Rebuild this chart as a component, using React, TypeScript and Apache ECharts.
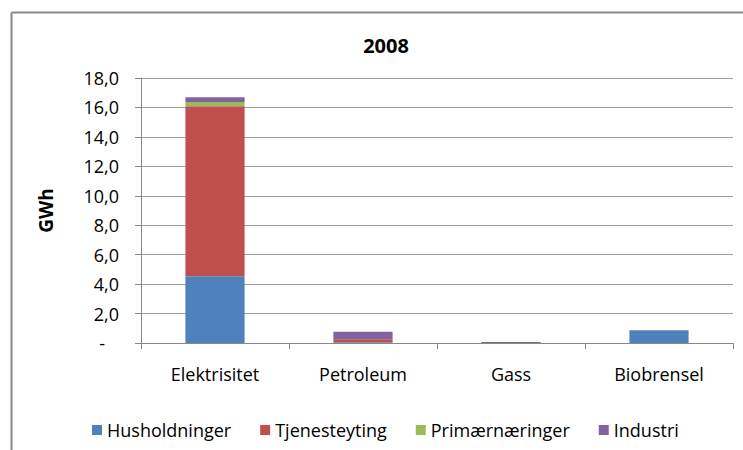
import React, { useEffect, useRef } from "react";
import * as echarts from "echarts";

const categories = ["Elektrisitet", "Petroleum", "Gass", "Biobrensel"];
const husholdninger = [4.53, 0.05, 0, 0.86];
const tjenesteyting = [11.55, 0.2, 0, 0];
const primaernaeringer = [0.29, 0, 0, 0];
const industri = [0.32, 0.52, 0.07, 0];
const seriesNames = ["Husholdninger", "Tjenesteyting", "Primærnæringer", "Industri"];
const colors = ["#4F81BD", "#C0504D", "#9BBB59", "#8064A2"];

const FONT = "'Open Sans', Lato, sans-serif";

export default function App() {
  const ref = useRef<HTMLDivElement>(null);
  useEffect(() => {
    if (!ref.current) return;
    const chart = echarts.init(ref.current, null, { renderer: "svg" });
    const data = [husholdninger, tjenesteyting, primaernaeringer, industri];
    chart.setOption({
      animation: false,
      backgroundColor: "#ffffff",
      textStyle: { fontFamily: FONT },
      title: {
        text: "2008",
        left: 381,
        textAlign: "center",
        top: 30,
        textStyle: { fontSize: 20, fontWeight: "bold", color: "#000", fontFamily: FONT },
      },
      graphic: [
        { type: "line", shape: { x1: 11.5, y1: 12.5, x2: 743, y2: 12.5 }, style: { stroke: "#888", lineWidth: 2 } },
        { type: "line", shape: { x1: 11.5, y1: 12.5, x2: 11.5, y2: 450 }, style: { stroke: "#888", lineWidth: 2 } },
      ],
      grid: { left: 141, right: 10, top: 78, bottom: 107 },
      legend: {
        left: 92,
        top: 421,
        padding: 0,
        icon: "rect",
        itemWidth: 10,
        itemHeight: 10,
        itemGap: 29,
        textStyle: { fontSize: 18, color: "#000", fontFamily: FONT },
        data: seriesNames,
      },
      xAxis: {
        type: "category",
        data: categories,
        axisLine: { lineStyle: { color: "#888", width: 1 } },
        axisTick: { show: true, alignWithLabel: false, length: 6, lineStyle: { color: "#888" } },
        axisLabel: { fontSize: 18, color: "#000", margin: 22, fontFamily: FONT },
      },
      yAxis: {
        type: "value",
        min: 0,
        max: 18,
        interval: 2,
        name: "GWh",
        nameLocation: "middle",
        nameGap: 86,
        nameRotate: 90,
        nameTextStyle: { fontSize: 19, fontWeight: "bold", color: "#000", fontFamily: FONT },
        axisLine: { show: true, lineStyle: { color: "#888" } },
        axisTick: { show: true, length: 6, inside: false, lineStyle: { color: "#888" } },
        splitLine: { lineStyle: { color: "#A0A0A0" } },
        axisLabel: {
          fontSize: 18,
          color: "#000",
          margin: 22,
          fontFamily: FONT,
          formatter: (v: number) => (v === 0 ? "{d|-}" : v.toFixed(1).replace(".", ",")),
          rich: { d: { fontSize: 18, color: "#000", padding: [0, 14, 0, 0], fontFamily: FONT } },
        },
      },
      series: seriesNames.map((name, i) => ({
        name,
        type: "bar",
        stack: "total",
        barWidth: "40%",
        itemStyle: { color: colors[i] },
        data: data[i],
      })),
    });
    return () => chart.dispose();
  }, []);
  return <div ref={ref} style={{ position: "fixed", left: 0, top: 0, width: 743, height: 450 }} />;
}
